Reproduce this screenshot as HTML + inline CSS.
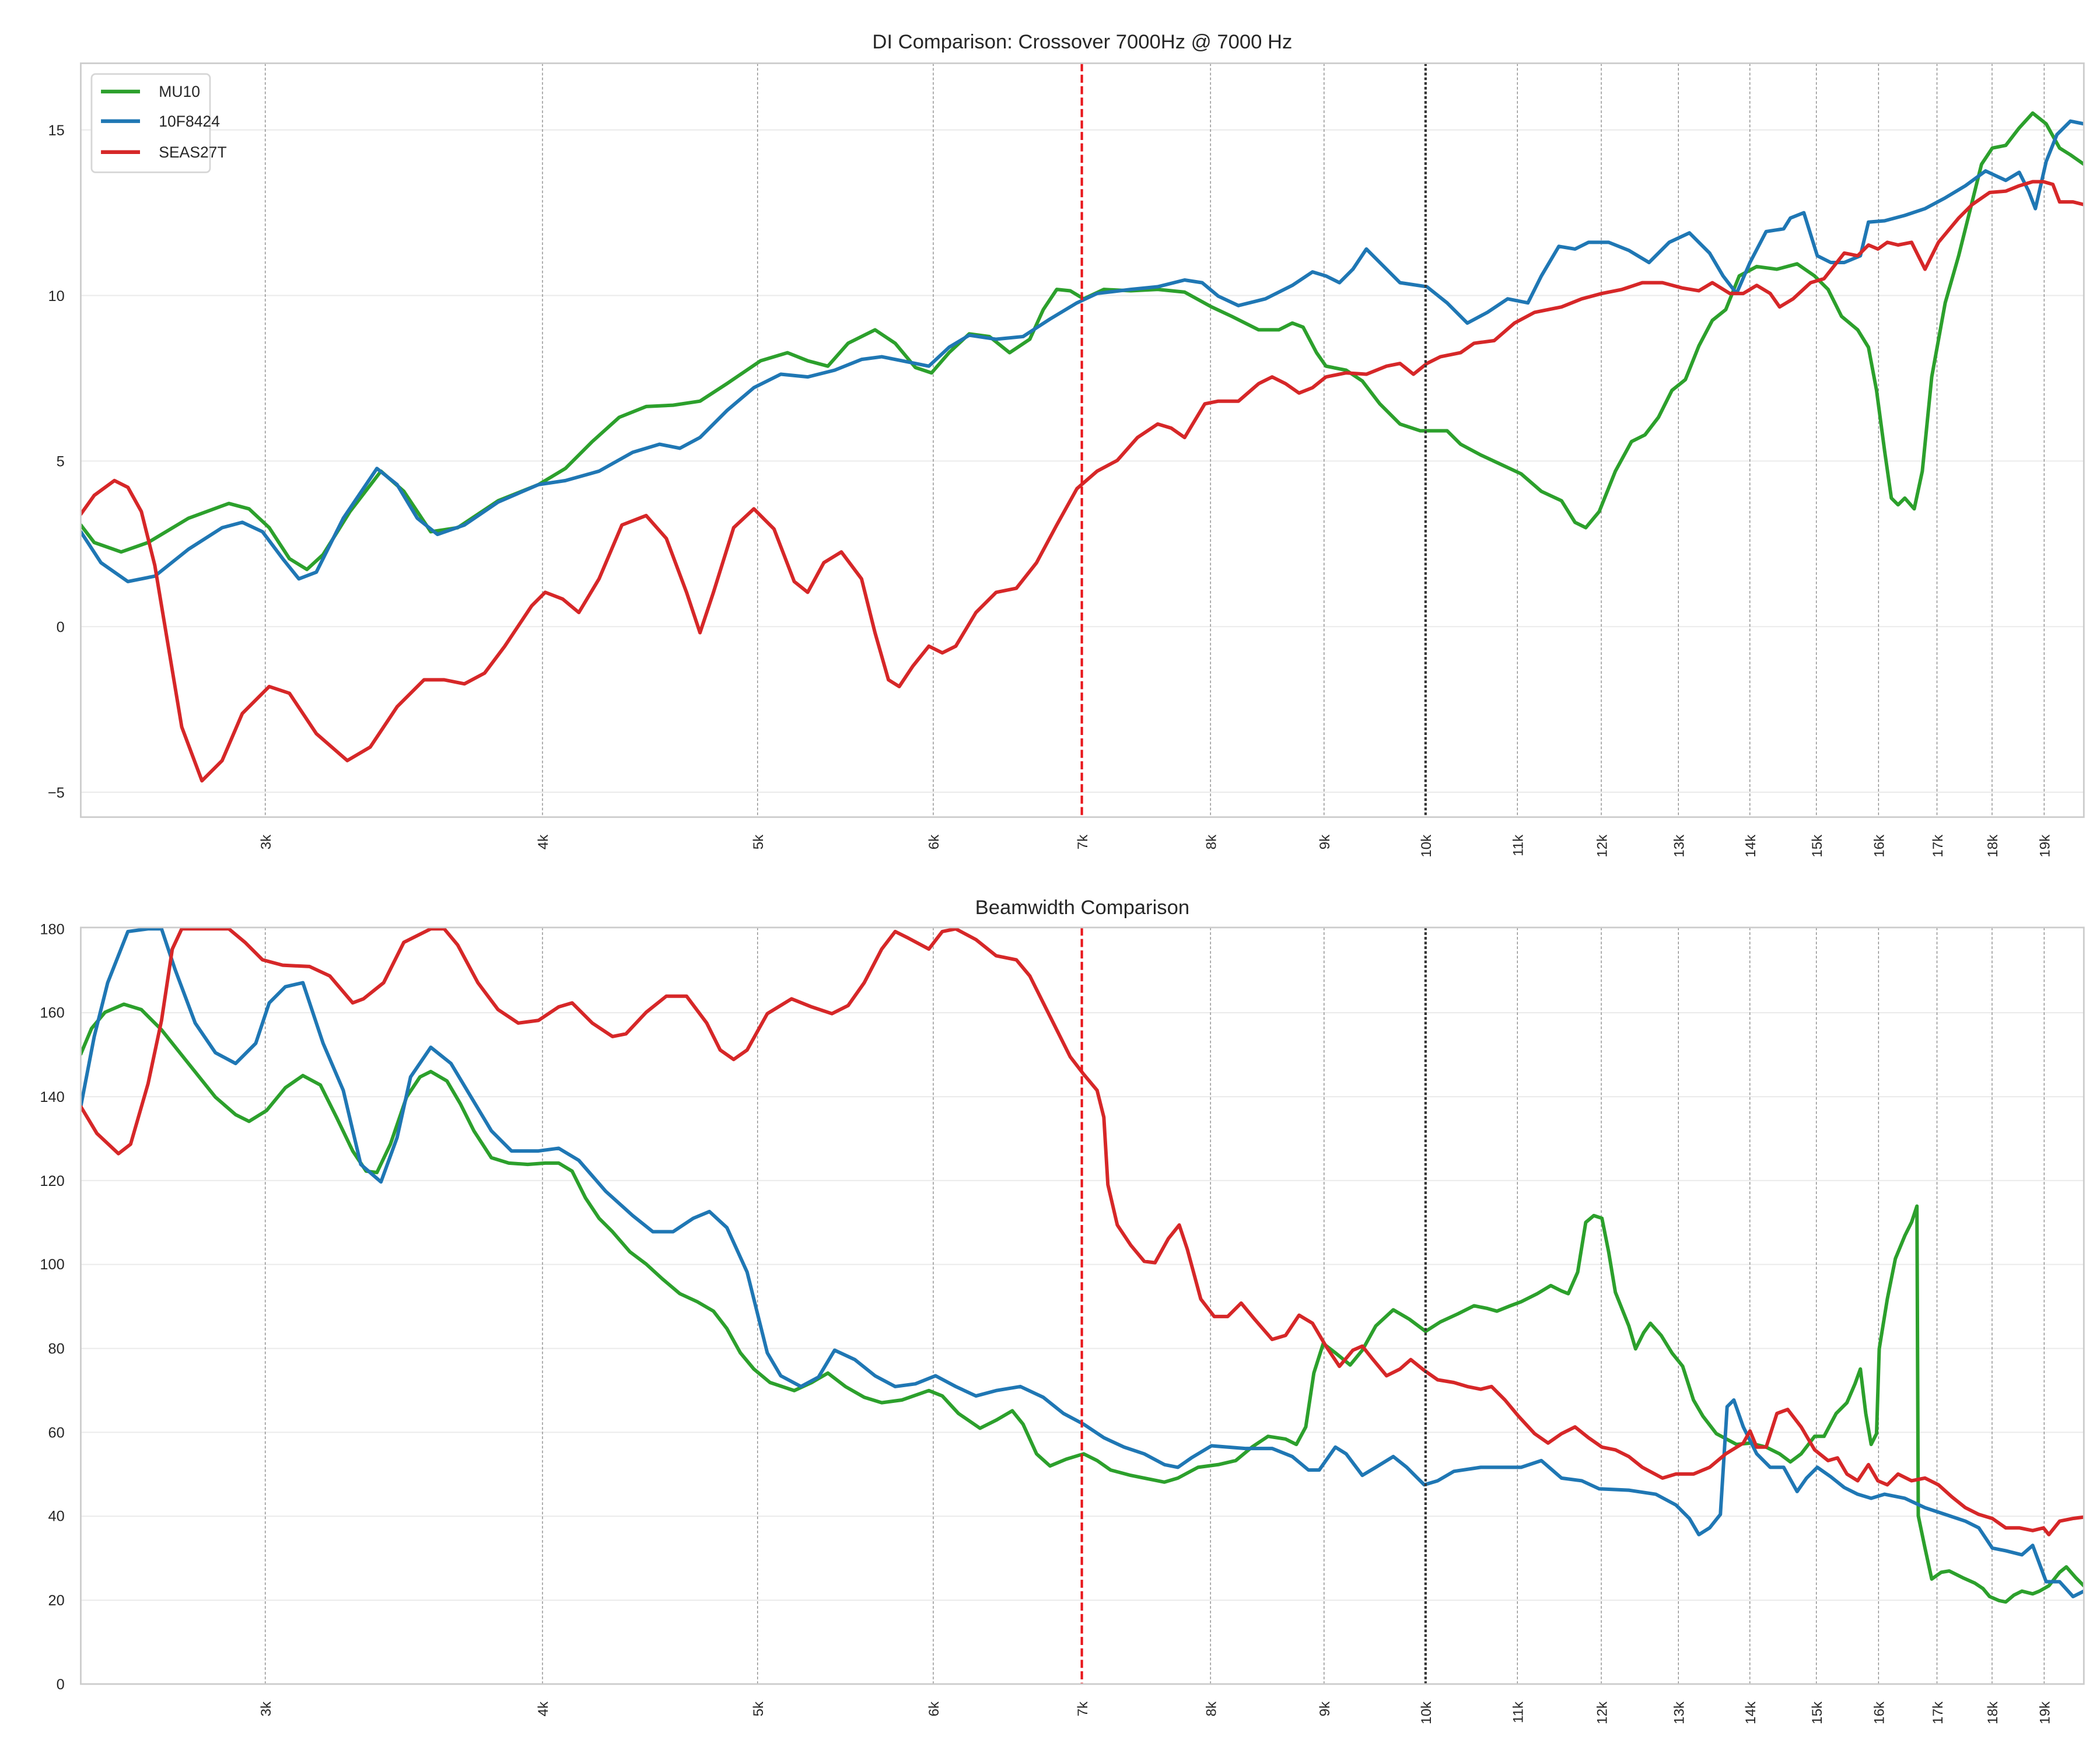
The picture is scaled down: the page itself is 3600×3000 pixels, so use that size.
<!DOCTYPE html>
<html><head><meta charset="utf-8"><style>
html,body{margin:0;padding:0;background:#fff}
svg{display:block}
text{font-family:"Liberation Sans",sans-serif;fill:#262626}
.g{stroke:#ebebeb;stroke-width:0.9}
.v{stroke:#8a8a8a;stroke-width:0.6;stroke-dasharray:2,1.5}
.c{fill:none;stroke-width:2.6;stroke-linejoin:round;stroke-linecap:round}
.tk{font-size:11px}
.xt{font-size:10.5px}
</style></head><body>
<svg width="3600" height="3000" viewBox="0 0 1560 1300" xmlns="http://www.w3.org/2000/svg">
<defs>
<clipPath id="c1"><rect x="60" y="47" width="1488" height="560"/></clipPath>
<clipPath id="c2"><rect x="60" y="689" width="1488" height="562"/></clipPath>
</defs>
<rect width="1560" height="1300" fill="#fff"/>
<text x="804" y="36" font-size="15" text-anchor="middle">DI Comparison: Crossover 7000Hz @ 7000 Hz</text>
<text x="804" y="679" font-size="15" text-anchor="middle">Beamwidth Comparison</text>
<g>
<line class="g" x1="60" x2="1548" y1="96.5" y2="96.5"/><line class="g" x1="60" x2="1548" y1="219.5" y2="219.5"/>
<line class="g" x1="60" x2="1548" y1="342.5" y2="342.5"/><line class="g" x1="60" x2="1548" y1="465.5" y2="465.5"/>
<line class="g" x1="60" x2="1548" y1="588.5" y2="588.5"/>
</g>
<g>
<line class="g" x1="60" x2="1548" y1="752.3" y2="752.3"/><line class="g" x1="60" x2="1548" y1="814.7" y2="814.7"/>
<line class="g" x1="60" x2="1548" y1="877" y2="877"/><line class="g" x1="60" x2="1548" y1="939.3" y2="939.3"/>
<line class="g" x1="60" x2="1548" y1="1001.7" y2="1001.7"/><line class="g" x1="60" x2="1548" y1="1064" y2="1064"/>
<line class="g" x1="60" x2="1548" y1="1126.3" y2="1126.3"/><line class="g" x1="60" x2="1548" y1="1188.7" y2="1188.7"/>
</g>
<g id="vl"></g>
<g class="tk" text-anchor="end">
<text x="48" y="100.5">15</text><text x="48" y="223.5">10</text><text x="48" y="346.5">5</text><text x="48" y="469.5">0</text><text x="48" y="592.5">−5</text>
<text x="48" y="694">180</text><text x="48" y="756">160</text><text x="48" y="818.5">140</text><text x="48" y="881">120</text>
<text x="48" y="943">100</text><text x="48" y="1005.5">80</text><text x="48" y="1068">60</text><text x="48" y="1130">40</text>
<text x="48" y="1192.5">20</text><text x="48" y="1255">0</text>
</g>
<g id="xl"></g>
<g clip-path="url(#c1)">
<polyline class="c" stroke="#2ca02c" points="60,390 70,403 90,410 110,403 140,385 170,374 185,378 200,392 215,415 228,423 240,412 260,380 283,350 300,365 320,395 340,392 370,372 400,360 420,348 440,328 460,310 480,302 500,301 520,298 540,285 565,268 585,262 600,268 615,272 630,255 650,245 665,255 680,273 692,277 705,262 720,248 735,250 750,262 765,252 775,230 785,215 795,216 805,222 820,215 840,216 860,215 880,217 900,228 915,235 935,245 950,245 960,240 968,243 978,262 985,272 1000,275 1012,283 1025,300 1040,315 1055,320 1075,320 1085,330 1100,338 1115,345 1130,352 1145,365 1160,372 1170,388 1178,392 1188,380 1200,350 1212,328 1222,323 1232,310 1242,290 1252,282 1262,257 1272,238 1282,230 1292,205 1305,198 1320,200 1335,196 1348,205 1358,215 1368,235 1380,245 1388,258 1394,290 1400,335 1405,370 1410,375 1415,370 1422,378 1428,350 1435,280 1445,225 1455,190 1465,150 1472,122 1480,110 1490,108 1500,95 1510,84 1520,92 1530,110 1538,115 1548,122"/>
<polyline class="c" stroke="#1f77b4" points="60,395 75,418 95,432 115,428 140,408 165,392 180,388 195,395 210,415 222,430 235,425 255,385 280,348 295,360 310,385 325,397 345,390 370,373 400,360 420,357 445,350 470,336 490,330 505,333 520,325 540,305 560,288 580,278 600,280 620,275 640,267 655,265 670,268 690,272 705,258 720,249 740,252 760,250 780,237 800,225 815,218 840,215 860,213 880,208 893,210 905,220 920,227 940,222 960,212 975,202 985,205 995,210 1005,200 1015,185 1025,195 1040,210 1060,213 1075,225 1090,240 1105,232 1120,222 1135,225 1145,205 1158,183 1170,185 1180,180 1195,180 1210,186 1225,195 1240,180 1255,173 1270,188 1280,205 1290,218 1300,195 1312,172 1325,170 1330,162 1340,158 1350,190 1360,195 1370,195 1382,190 1388,165 1400,164 1415,160 1430,155 1445,147 1460,138 1475,127 1490,134 1500,128 1507,142 1512,155 1520,120 1528,100 1538,90 1548,92"/>
<polyline class="c" stroke="#d62728" points="60,382 70,368 85,357 95,362 105,380 115,420 125,480 135,540 150,580 165,565 180,530 200,510 215,515 235,545 258,565 275,555 295,525 315,505 330,505 345,508 360,500 375,480 395,450 405,440 418,445 430,455 445,430 462,390 480,383 495,400 510,440 520,470 530,440 545,392 560,378 575,393 590,432 600,440 612,418 625,410 640,430 650,470 660,505 668,510 678,495 690,480 700,485 710,480 725,455 740,440 755,437 770,418 785,390 800,363 815,350 830,342 845,325 860,315 870,318 880,325 895,300 905,298 920,298 935,285 945,280 955,285 965,292 975,288 985,280 1000,277 1015,278 1030,272 1040,270 1050,278 1060,270 1070,265 1085,262 1095,255 1110,253 1125,240 1140,232 1160,228 1175,222 1190,218 1205,215 1220,210 1235,210 1250,214 1262,216 1272,210 1285,218 1295,218 1305,212 1315,218 1322,228 1332,222 1345,210 1355,207 1370,188 1380,190 1388,182 1395,185 1402,180 1410,182 1420,180 1430,200 1440,180 1455,162 1465,152 1478,143 1490,142 1500,138 1510,135 1518,135 1525,137 1530,150 1540,150 1548,152"/>
</g>
<g clip-path="url(#c2)">
<polyline class="c" stroke="#2ca02c" points="60,783 68,764 78,752 92,746 105,750 120,765 140,790 160,815 175,828 185,833 198,825 212,808 225,799 238,806 250,830 262,855 272,870 280,871 290,850 302,815 312,800 320,796 332,803 342,820 352,840 365,860 378,864 392,865 405,864 415,864 425,870 435,890 445,905 455,915 468,930 480,939 492,950 505,961 518,967 530,974 540,987 550,1005 560,1017 572,1027 590,1033 603,1027 615,1020 628,1030 642,1038 655,1042 670,1040 690,1033 700,1037 712,1050 728,1061 740,1055 752,1048 760,1058 770,1080 780,1089 792,1084 805,1080 815,1085 825,1092 840,1096 855,1099 865,1101 875,1098 890,1090 905,1088 918,1085 930,1075 942,1067 955,1069 963,1073 970,1060 976,1020 983,998 992,1005 1003,1014 1012,1003 1022,985 1035,973 1047,980 1059,989 1070,982 1083,976 1095,970 1105,972 1112,974 1122,970 1130,967 1142,961 1152,955 1160,959 1165,961 1172,945 1178,908 1184,903 1190,905 1195,930 1200,960 1210,985 1215,1002 1221,990 1226,983 1234,992 1242,1005 1250,1015 1258,1040 1265,1052 1275,1065 1290,1073 1300,1072 1312,1075 1322,1080 1330,1086 1338,1080 1348,1067 1355,1067 1364,1050 1372,1042 1378,1028 1382,1017 1386,1050 1390,1073 1394,1065 1396,1002 1402,965 1408,935 1415,918 1420,908 1424,896 1425,1126 1430,1150 1435,1173 1442,1168 1448,1167 1458,1172 1467,1176 1473,1180 1478,1186 1485,1189 1490,1190 1496,1185 1502,1182 1510,1184 1515,1182 1522,1178 1530,1168 1535,1164 1542,1172 1548,1178"/>
<polyline class="c" stroke="#1f77b4" points="60,822 70,770 80,730 95,692 110,690 120,690 130,720 145,760 160,782 175,790 190,775 200,745 212,733 225,730 240,775 255,810 268,865 283,878 295,845 305,800 320,778 335,790 350,815 365,840 380,855 400,855 415,853 430,862 450,885 470,903 485,915 500,915 515,905 527,900 540,912 555,945 560,965 570,1005 580,1022 595,1030 608,1023 620,1003 635,1010 650,1022 665,1030 680,1028 695,1022 710,1030 725,1037 740,1033 758,1030 775,1038 790,1050 805,1058 820,1068 835,1075 850,1080 865,1088 875,1090 885,1083 900,1074 925,1076 945,1076 960,1082 972,1092 980,1092 992,1075 1000,1080 1012,1096 1022,1090 1035,1082 1045,1090 1058,1103 1068,1100 1080,1093 1100,1090 1130,1090 1145,1085 1160,1098 1175,1100 1188,1106 1210,1107 1230,1110 1245,1118 1255,1128 1262,1140 1270,1135 1278,1125 1283,1045 1288,1040 1295,1060 1305,1080 1315,1090 1325,1090 1335,1108 1342,1098 1350,1090 1360,1097 1370,1105 1380,1110 1390,1113 1400,1110 1415,1113 1430,1120 1445,1125 1460,1130 1470,1135 1480,1150 1490,1152 1502,1155 1510,1148 1520,1175 1530,1175 1540,1186 1548,1182"/>
<polyline class="c" stroke="#d62728" points="60,822 72,842 88,857 97,850 110,805 120,758 128,705 135,690 170,690 182,700 195,713 210,717 230,718 245,725 262,745 270,742 285,730 300,700 320,690 330,690 340,702 355,730 370,750 385,760 400,758 415,748 425,745 440,760 455,770 465,768 480,752 495,740 510,740 525,760 535,780 545,787 555,780 570,753 588,742 603,748 618,753 630,747 642,730 655,705 665,692 675,697 690,705 700,692 710,690 725,698 740,710 755,713 765,725 775,745 785,765 795,785 805,798 815,810 820,830 823,880 830,910 840,925 850,937 858,938 868,920 876,910 882,928 892,965 902,978 912,978 922,968 932,980 945,995 955,992 965,977 975,983 985,1000 995,1015 1005,1003 1012,1000 1020,1010 1030,1022 1040,1017 1048,1010 1058,1018 1068,1025 1080,1027 1090,1030 1100,1032 1108,1030 1118,1040 1128,1052 1140,1065 1150,1072 1160,1065 1170,1060 1180,1068 1190,1075 1200,1077 1210,1082 1220,1090 1235,1098 1245,1095 1258,1095 1270,1090 1282,1080 1295,1072 1300,1063 1305,1075 1312,1075 1320,1050 1328,1047 1338,1060 1348,1077 1358,1085 1365,1083 1372,1095 1380,1100 1388,1088 1395,1100 1402,1103 1410,1095 1420,1100 1430,1098 1440,1103 1450,1112 1460,1120 1470,1125 1480,1128 1490,1135 1500,1135 1510,1137 1518,1135 1522,1140 1530,1130 1540,1128 1548,1127"/>
</g>
<g id="marks"></g>
<rect x="60" y="47" width="1488" height="560" fill="none" stroke="#cccccc" stroke-width="1.2"/>
<rect x="60" y="689" width="1488" height="562" fill="none" stroke="#cccccc" stroke-width="1.2"/>
<g>
<rect x="68" y="55" width="88" height="73" rx="3" fill="#fff" stroke="#d6d6d6" stroke-width="1.2"/>
<line x1="75" x2="104" y1="68" y2="68" stroke="#2ca02c" stroke-width="2.8"/>
<line x1="75" x2="104" y1="90" y2="90" stroke="#1f77b4" stroke-width="2.8"/>
<line x1="75" x2="104" y1="113" y2="113" stroke="#d62728" stroke-width="2.8"/>
<text x="118" y="72" font-size="11.5">MU10</text>
<text x="118" y="94" font-size="11.5">10F8424</text>
<text x="118" y="117" font-size="11.5">SEAS27T</text>
</g>
<script>
var ns="http://www.w3.org/2000/svg";
var vl=document.getElementById("vl"),xl=document.getElementById("xl"),mk=document.getElementById("marks");
function X(f){return 1059+1648.5*Math.log10(f/10000);}
for(var k=3;k<=19;k++){
 var x=X(k*1000);
 [[47,607],[689,1251]].forEach(function(r,i){
  if(k!=7&&k!=10){var l=document.createElementNS(ns,"line");l.setAttribute("class","v");l.setAttribute("x1",x);l.setAttribute("x2",x);l.setAttribute("y1",r[0]);l.setAttribute("y2",r[1]);vl.appendChild(l);}
  var t=document.createElementNS(ns,"text");t.setAttribute("class","xt");t.setAttribute("text-anchor","end");
  var yy=r[1]+13;t.setAttribute("transform","translate("+(x+4)+","+yy+") rotate(-90)");t.textContent=k+"k";xl.appendChild(t);
 });
}
[[47,607],[689,1251]].forEach(function(r){
 var a=document.createElementNS(ns,"line");a.setAttribute("x1",X(7000));a.setAttribute("x2",X(7000));a.setAttribute("y1",r[0]);a.setAttribute("y2",r[1]);a.setAttribute("stroke","#e8161b");a.setAttribute("stroke-width","1.8");a.setAttribute("stroke-dasharray","6,2.5");mk.appendChild(a);
 var b=document.createElementNS(ns,"line");b.setAttribute("x1",X(10000));b.setAttribute("x2",X(10000));b.setAttribute("y1",r[0]);b.setAttribute("y2",r[1]);b.setAttribute("stroke","#333");b.setAttribute("stroke-width","1.8");b.setAttribute("stroke-dasharray","2,1.5");mk.appendChild(b);
});
</script>
</svg>
</body></html>
